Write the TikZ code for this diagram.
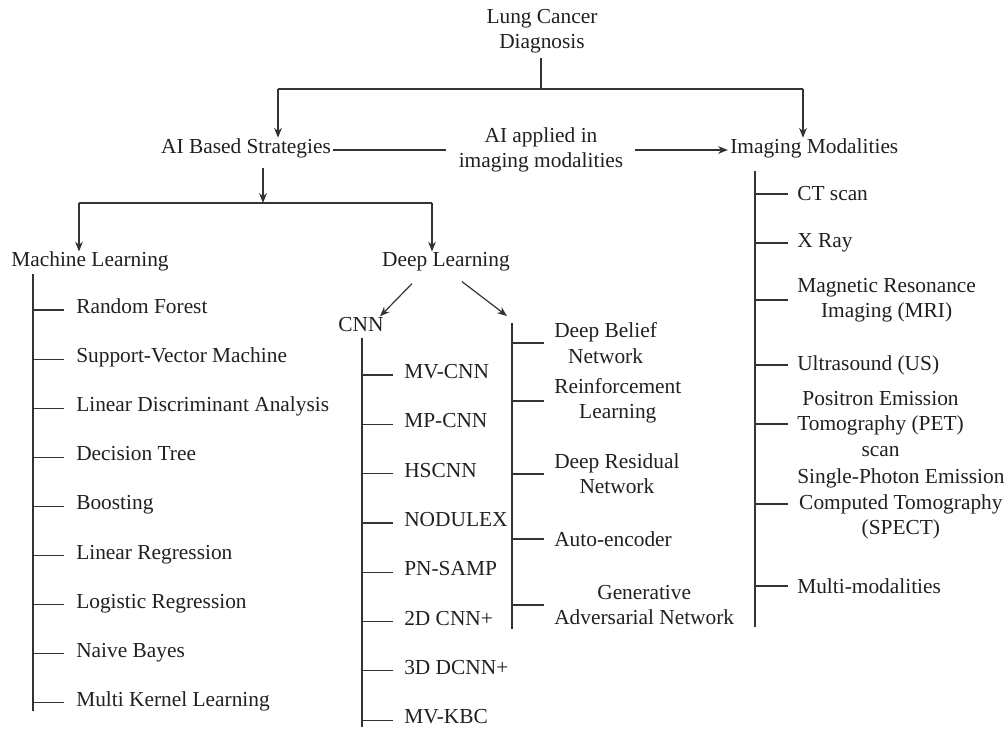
\documentclass[tikz,border=0pt]{standalone}
\usepackage{fontspec}
\setmainfont{Liberation Serif}
\usetikzlibrary{arrows.meta,positioning,calc}
\definecolor{Ink}{HTML}{231F20}
\definecolor{Wire}{HTML}{333333}

\begin{document}
\begin{tikzpicture}[x=0.025cm, y=-0.025cm, >={Stealth[length=7pt,width=5.5pt]},
  every node/.style={font=\fontsize{15.2}{18}\selectfont, text=Ink, inner sep=0pt, align=center},
  one/.style={text height=0.7em, text depth=0.2em},
  wire/.style={draw=Wire, line width=0.85pt}]
  \useasboundingbox (0,0) rectangle (1008,729);

  \node (lcd) at (542,31) {Lung Cancer\\Diagnosis};
  \node[one] (ais) at (246,150) {AI Based Strategies};
  \node (aia) at (541,150) {AI applied in\\imaging modalities};
  \node[one, anchor=west] (img) at (730,150) {Imaging Modalities};
  \node[one] (ml) at (90,263) {Machine Learning};
  \node[one] (dl) at (446,263) {Deep Learning};
  \node[one] (cnn) at (361,328) {CNN};

  \coordinate (top) at (541,89);
  \coordinate (topl) at (278,89);
  \coordinate (topr) at (803,89);
  \coordinate (mid) at (263,203);
  \coordinate (midl) at (79,203);
  \coordinate (midr) at (432,203);
  \coordinate (mlbar) at (33,274);
  \coordinate (cnnbar) at (362,338);
  \coordinate (dlbar) at (512,323);
  \coordinate (imgbar) at (755,171);

  \draw[wire, shorten <=3pt] (lcd.south -| top) -- (top);
  \draw[wire, line width=1.3pt] (topl) -- (topr);
  \draw[wire, ->, shorten >=4pt] (topl) -- (topl |- ais.north);
  \draw[wire, ->, shorten >=4pt] (topr) -- (topr |- img.north);

  \draw[wire, shorten <=1pt, shorten >=9pt] (ais.east) -- (ais.east -| aia.west);
  \draw[wire, ->, shorten <=8pt, shorten >=1.5pt] (aia.east |- img.west) -- (img.west);

  \draw[wire, ->, shorten <=8pt] (ais.south -| mid) -- (mid);
  \draw[wire] (midl) -- (midr);
  \draw[wire, ->, shorten >=3.5pt] (midl) -- (midl |- ml.north);
  \draw[wire, ->, shorten >=3.5pt] (midr) -- (midr |- dl.north);

  \draw[wire, ->] ($(dl.south)+(-34,14)$) -- ($(cnn.north)+(19,-5)$);
  \draw[wire, ->] ($(dl.south)+(16,12)$) -- ($(dlbar)+(-5,-7)$);

  \draw[wire] (mlbar) -- ++(0,437);
  \draw[wire] (cnnbar) -- ++(0,389);
  \draw[wire] (dlbar) -- ++(0,306);
  \draw[wire] (imgbar) -- ++(0,456);

  \foreach \txt [count=\i from 0] in {Random Forest, Support-Vector Machine, Linear Discriminant Analysis, Decision Tree, Boosting, Linear Regression, Logistic Regression, Naive Bayes, Multi Kernel Learning} {
    \node[one, anchor=west] (ml\i) at (76,{310+49.1*\i}) {\txt};
    \draw[wire] (ml\i.west -| mlbar) -- ++(31,0);
  }
  \foreach \txt [count=\i from 0] in {MV-CNN, MP-CNN, HSCNN, NODULEX, PN-SAMP, 2D CNN+, 3D DCNN+, MV-KBC} {
    \node[one, anchor=west] (cn\i) at (404,{375+49.3*\i}) {\txt};
    \draw[wire] (cn\i.west -| cnnbar) -- ++(31,0);
  }
  \foreach \y/\txt [count=\i] in {343/{Deep Belief\\Network}, 401/{Reinforcement\\Learning}, 474/{Deep Residual\\Network}, 539/{Auto-encoder}, 605/{Generative\\Adversarial Network}} {
    \node[anchor=west] (dn\i) at (554,\y) {\txt};
    \draw[wire] (dn\i.west -| dlbar) -- ++(32,0);
  }
  \foreach \y/\txt [count=\i] in {194/{CT scan}, 243/{X Ray}, 300/{Magnetic Resonance\\Imaging (MRI)}, 365/{Ultrasound (US)}, 424/{Positron Emission\\Tomography (PET)\\scan}, 504/{Single-Photon Emission\\Computed Tomography\\(SPECT)}, 586/{Multi-modalities}} {
    \node[anchor=west] (im\i) at (797,\y) {\txt};
    \draw[wire] (im\i.west -| imgbar) -- ++(33,0);
  }
\end{tikzpicture}
\end{document}
